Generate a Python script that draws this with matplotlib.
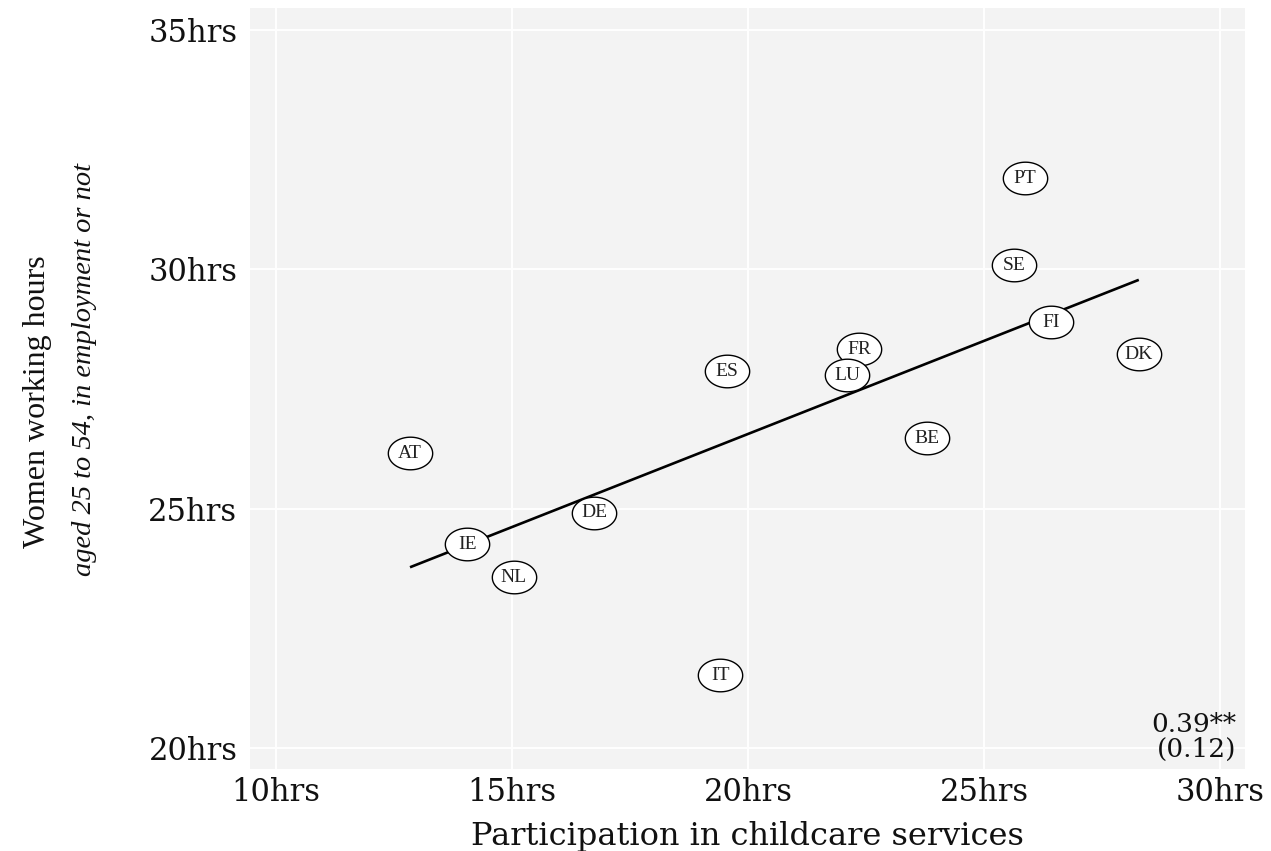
import numpy as np
import matplotlib
matplotlib.use("Agg")
import matplotlib.pyplot as plt
from matplotlib.path import Path

countries = ["AT", "IE", "NL", "DE", "ES", "IT", "BE", "FR", "LU", "SE", "PT", "FI", "DK"]
childcare = [12.84, 14.05, 15.04, 16.74, 19.56, 19.41, 23.79, 22.35, 22.10, 25.64, 25.87, 26.42, 28.28]
hours = [26.16, 24.26, 23.57, 24.91, 27.87, 21.52, 26.47, 28.33, 27.79, 30.08, 31.90, 28.89, 28.23]

x_ticks = [10, 15, 20, 25, 30]
y_ticks = [20, 25, 30, 35]
coef_text = "0.39**\n(0.12)"

x = np.array(childcare)
y = np.array(hours)

fig = plt.figure(figsize=(12.71, 8.51), dpi=100)
ax = fig.add_axes([250/1271, 1-769/851, (1245-250)/1271, (769-8)/851])
ax.set_facecolor("#f3f3f3")
ax.set_xlim(9.45, 30.53)
ax.set_ylim(19.56, 35.46)
for s in ax.spines.values():
    s.set_visible(False)
ax.grid(True, color="white", linewidth=1.4)
ax.set_axisbelow(True)

ax.set_xticks(x_ticks)
ax.set_xticklabels([f"{t}hrs" for t in x_ticks], family="DejaVu Serif", fontsize=22)
ax.set_yticks(y_ticks)
ax.set_yticklabels([f"{t}hrs" for t in y_ticks], family="DejaVu Serif", fontsize=22)
ax.tick_params(axis="x", length=0, pad=6, colors="#111111")
ax.tick_params(axis="y", length=0, pad=9, colors="#111111")

# regression line
b, a = np.polyfit(x, y, 1)
xs = np.array([x.min(), x.max()])
ax.plot(xs, a + b * xs, color="black", linewidth=1.9, zorder=2, solid_capstyle="butt")

# ellipse marker
t = np.linspace(0, 2*np.pi, 80)
verts = np.column_stack([1.36*np.cos(t), np.sin(t)])
ell = Path(verts, closed=True)
for cx, cy, lab in zip(x, y, countries):
    ax.scatter([cx], [cy], marker=ell, s=1020, facecolor="white", edgecolor="black",
               linewidth=1.0, zorder=3)
    ax.text(cx, cy, lab, ha="center", va="center", fontsize=14,
            family="Liberation Serif", color="#222222", zorder=4)

ax.text(1236/1271, 1-737/851, coef_text, transform=fig.transFigure, ha="right", va="center",
        fontsize=19, family="DejaVu Serif", color="#111111", linespacing=1.0)

ax.set_xlabel("Participation in childcare services", family="DejaVu Serif", fontsize=23,
              labelpad=9, color="#111111")

fig.text(38/1271, 1-402/851, "Women working hours", rotation=90, ha="center", va="center",
         family="Liberation Serif", fontsize=23, color="#111111")
fig.text(85/1271, 1-370/851, "aged 25 to 54, in employment or not", rotation=90, ha="center",
         va="center", family="Liberation Serif", style="italic", fontsize=20.5, color="#111111")

fig.savefig("out.png", dpi=100)
